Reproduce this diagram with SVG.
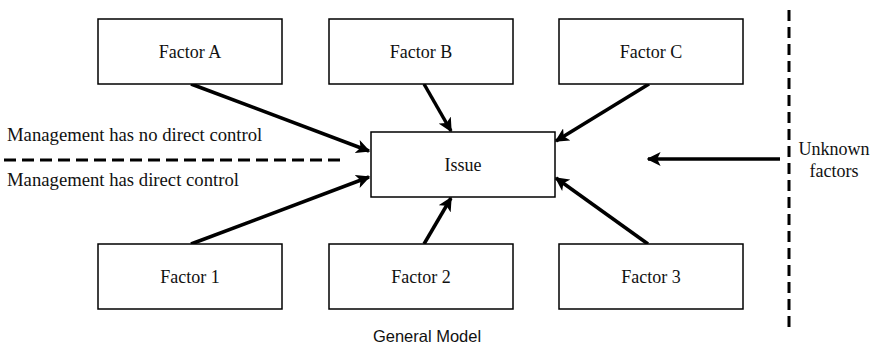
<svg xmlns="http://www.w3.org/2000/svg" width="871" height="349" viewBox="0 0 871 349">
<style>
.box{fill:#fff;stroke:#000;stroke-width:1.5}
.t{font-family:"Liberation Serif","Times New Roman",serif;font-size:18px;fill:#111}
.m{font-size:18.7px}
.c{text-anchor:middle}
.arr{stroke:#000;stroke-width:3.5;fill:none;marker-end:url(#ah)}
.dash{stroke:#000;stroke-width:3;fill:none}
</style>
<defs>
<marker id="ah" viewBox="0 0 10 10" refX="9" refY="5" markerWidth="4" markerHeight="4" orient="auto" markerUnits="strokeWidth">
<path d="M0,0 L10,5 L0,10 L2.5,5 Z" fill="#000"/>
</marker>
</defs>
<rect width="871" height="349" fill="#fff"/>
<g id="connectors">
<line class="arr" x1="191" y1="84" x2="369" y2="151"/>
<line class="arr" x1="424" y1="84" x2="451" y2="131"/>
<line class="arr" x1="649" y1="84" x2="556" y2="141"/>
<line class="arr" x1="191" y1="244" x2="369" y2="177"/>
<line class="arr" x1="424" y1="244" x2="451" y2="198"/>
<line class="arr" x1="648" y1="244" x2="556" y2="178"/>
<line class="arr" x1="780" y1="159" x2="648" y2="159"/>
</g>
<g id="dividers">
<line class="dash" x1="4" y1="160" x2="340" y2="160" stroke-dasharray="12,6"/>
<line class="dash" x1="789" y1="10" x2="789" y2="328" stroke-dasharray="11,6"/>
</g>
<g id="factorA"><rect class="box" x="98" y="19" width="184" height="65"/><text class="t c" x="190" y="58">Factor A</text></g>
<g id="factorB"><rect class="box" x="329" y="19" width="184" height="65"/><text class="t c" x="421" y="58">Factor B</text></g>
<g id="factorC"><rect class="box" x="559" y="19" width="184" height="65"/><text class="t c" x="651" y="58">Factor C</text></g>
<g id="issue"><rect class="box" x="371" y="132" width="184" height="65"/><text class="t c" x="463" y="171">Issue</text></g>
<g id="factor1"><rect class="box" x="98" y="244" width="184" height="65"/><text class="t c" x="190" y="283">Factor 1</text></g>
<g id="factor2"><rect class="box" x="329" y="244" width="184" height="65"/><text class="t c" x="421" y="283">Factor 2</text></g>
<g id="factor3"><rect class="box" x="559" y="244" width="184" height="65"/><text class="t c" x="651" y="283">Factor 3</text></g>
<g id="labels">
<text class="t m" x="7" y="141">Management has no direct control</text>
<text class="t m" x="7" y="186">Management has direct control</text>
<text class="t c" x="834" y="155">Unknown</text>
<text class="t c" x="834" y="177">factors</text>
<text x="427" y="342" text-anchor="middle" font-family="Liberation Sans,Arial,sans-serif" font-size="16.5" fill="#111">General Model</text>
</g>
</svg>
